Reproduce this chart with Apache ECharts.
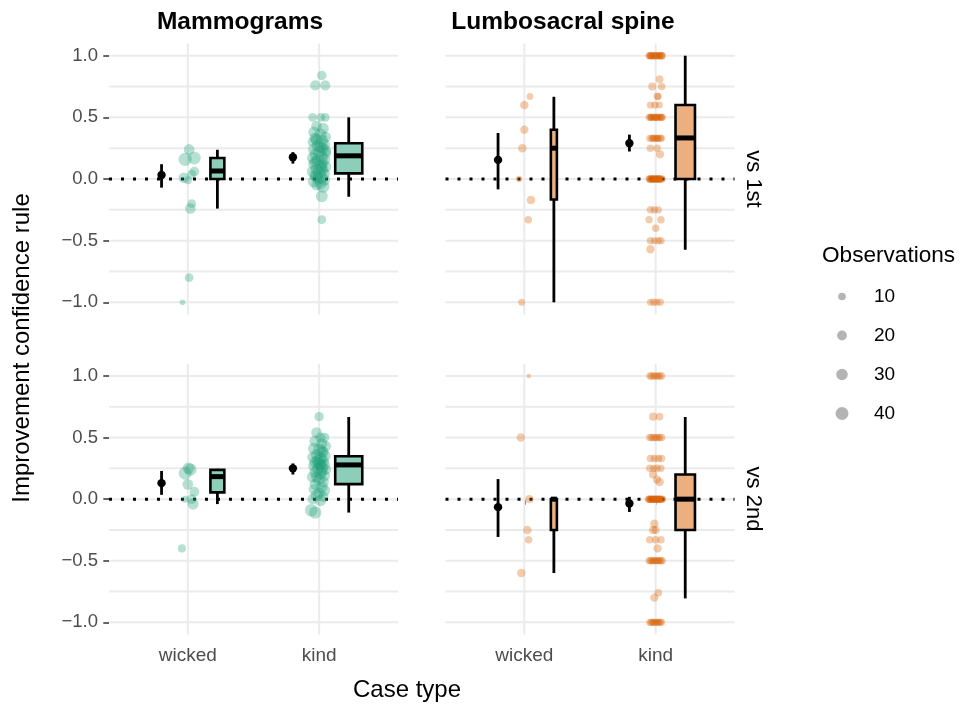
<!DOCTYPE html>
<html><head><meta charset="utf-8">
<script src="https://cdn.jsdelivr.net/npm/echarts@6/dist/echarts.min.js"></script>
<style>html,body{margin:0;padding:0;background:#fff}#c{width:962px;height:706px}</style>
</head><body><div id="c"></div>
<script>
// ---------- labels ----------
const CASE_TYPES = ['wicked', 'kind'];
const SPECIALTIES = ['Mammograms', 'Lumbosacral spine'];
const COMPARISONS = ['vs 1st', 'vs 2nd'];
const Y_TICKS = [-1, -0.5, 0, 0.5, 1];
const Y_GRID = [-1, -0.75, -0.5, -0.25, 0, 0.25, 0.5, 0.75, 1];
const X_CATS = [1, 2];
const LEGEND_OBS = [10, 20, 30, 40];

// ---------- jittered observations: [jitter offset, improvement, observations] ----------
const mammo1Wicked = [[0.01,0.24,25],[-0.02,0.16,42],[0.05,0.17,38],[0.05,0.06,20],[0.03,0.04,15],[-0.03,0.01,25],[0.0,-0.01,12],[0.03,-0.20,15],[0.02,-0.24,25],[0.01,-0.80,15],[-0.04,-1.00,4]];
const mammo1Kind = [[0.02,0.84,18],[-0.03,0.76,22],[0.046,0.76,22],[-0.05,0.5,15],[0.013,0.5,15],[0.046,0.5,15],
 [-0.02,0.43,25],[0.03,0.41,30],[-0.04,0.38,28],[0.01,0.36,35],[0.05,0.34,25],[-0.03,0.33,30],[0.02,0.31,38],[-0.05,0.30,22],[0.04,0.28,30],[-0.01,0.27,35],[0.03,0.25,28],[-0.04,0.24,32],[0.00,0.22,40],[0.05,0.21,25],[-0.03,0.20,30],[0.02,0.18,35],[-0.05,0.17,28],[0.04,0.16,32],[-0.01,0.15,38],[0.03,0.13,25],[-0.04,0.12,30],[0.01,0.11,35],[0.05,0.10,28],[-0.02,0.08,32],[0.03,0.07,25],[-0.05,0.06,30],[0.00,0.05,38],[0.04,0.04,28],[-0.03,0.03,32],[0.02,0.01,35],[-0.01,0.00,30],[0.04,-0.01,28],[-0.04,-0.02,35],[0.01,-0.04,30],[0.03,-0.06,38],[-0.02,-0.05,25],
 [-0.02,0.32,30],[0.01,0.26,32],[-0.03,0.14,30],[0.02,0.09,28],[-0.02,0.02,35],[0.05,0.23,26],
 [0.02,-0.14,32],[0.02,-0.33,15]];
const lumbo1Wicked = [[0.043,0.67,7],[0.0,0.6,14],[0.0,0.4,13],[-0.015,0.25,14],[-0.04,0.0,6],[0.05,-0.17,14],[0.03,-0.33,10],[-0.02,-1.0,8]];
const lumbo1Kind = [
 [-0.05,1,9],[-0.04,1,8],[-0.03,1,10],[-0.02,1,9],[-0.01,1,8],[0,1,10],[0.01,1,9],[0.02,1,8],[0.03,1,9],[0.04,1,10],[0.05,1,9],[-0.035,1,8],[-0.005,1,9],[0.025,1,8],[0.045,1,9],[-0.045,1,8],
 [0.03,0.81,11],[-0.026,0.75,12],[0.045,0.75,10],[0.012,0.67,10],[0.02,0.67,8],[-0.04,0.6,9],[-0.005,0.6,9],[0.028,0.6,8],
 [-0.05,0.5,9],[-0.04,0.5,8],[-0.03,0.5,9],[-0.02,0.5,8],[-0.01,0.5,9],[0,0.5,8],[0.01,0.5,9],[0.02,0.5,8],[0.03,0.5,9],[0.04,0.5,8],[0.05,0.5,9],[-0.035,0.5,8],[0.005,0.5,9],[0.045,0.5,8],
 [-0.045,0.33,9],[-0.03,0.33,8],[-0.01,0.33,10],[0.005,0.33,8],[0.02,0.33,9],[0.035,0.33,10],[0.045,0.33,8],[-0.02,0.33,9],[0.01,0.33,8],
 [-0.04,0.25,10],[0.012,0.25,9],[0.033,0.2,12],
 [-0.05,0,9],[-0.045,0,8],[-0.04,0,9],[-0.035,0,8],[-0.03,0,9],[-0.025,0,8],[-0.02,0,9],[-0.015,0,8],[-0.01,0,9],[-0.005,0,8],[0,0,9],[0.005,0,8],[0.01,0,9],[0.015,0,8],[0.02,0,9],[0.025,0,8],[0.03,0,9],[0.035,0,8],[0.04,0,9],[0.05,0,8],
 [-0.04,-0.25,10],[-0.01,-0.25,9],[0.02,-0.25,9],[-0.05,-0.33,9],[0.04,-0.33,10],[0.0,-0.4,10],
 [-0.04,-0.5,9],[-0.01,-0.5,8],[0.02,-0.5,9],[0.04,-0.5,9],[-0.04,-0.57,13],
 [-0.04,-1,8],[-0.015,-1,9],[0.01,-1,8],[0.035,-1,9]];
const mammo2Wicked = [[0.005,0.25,30],[-0.02,0.21,40],[0.02,0.24,35],[0.0,0.12,25],[0.05,0.06,20],[-0.02,0.0,8],[0.03,0.0,20],[0.04,-0.04,28],[-0.045,-0.4,12]];
const mammo2Kind = [[0.0,0.67,18],[-0.02,0.54,25],[0.01,0.5,22],[0.04,0.5,20],
 [-0.03,0.47,30],[0.02,0.45,28],[0.05,0.43,25],[-0.04,0.41,32],[0.0,0.40,35],[0.03,0.38,28],[-0.02,0.36,30],[0.04,0.35,35],[-0.05,0.34,25],[0.01,0.33,38],[0.03,0.31,30],[-0.03,0.30,32],[0.0,0.29,35],[0.04,0.28,28],[-0.04,0.27,30],[0.02,0.26,38],[-0.01,0.25,32],[0.05,0.24,25],[-0.03,0.22,30],[0.01,0.21,35],[0.04,0.19,28],[-0.05,0.18,30],[0.0,0.16,35],[0.03,0.14,30],[-0.03,0.12,28],[0.02,0.10,32],[-0.04,0.08,25],[0.04,0.07,30],[0.0,0.05,28],[-0.02,0.03,32],[0.03,0.02,25],[-0.05,0.0,22],[0.01,-0.01,30],
 [0.02,0.39,30],[-0.01,0.31,33],[0.02,0.23,30],[-0.02,0.18,28],[0.01,0.28,30],
 [-0.06,-0.09,38],[-0.03,-0.11,35]];
const lumbo2Wicked = [[0.033,1.0,2],[-0.027,0.5,14],[0.038,0.0,12],[0.023,-0.25,14],[0.033,-0.33,10],[-0.023,-0.6,14]];
const lumbo2Kind = [
 [-0.045,1,9],[-0.03,1,10],[-0.015,1,9],[0.0,1,10],[0.015,1,9],[0.03,1,10],[0.045,1,9],
 [-0.02,0.67,12],[0.03,0.67,10],
 [-0.045,0.5,10],[-0.03,0.5,9],[-0.015,0.5,10],[0.0,0.5,9],[0.015,0.5,10],[0.03,0.5,9],[0.045,0.5,10],
 [-0.04,0.33,10],[-0.01,0.33,9],[0.02,0.33,10],[0.045,0.33,9],
 [-0.045,0.25,10],[-0.015,0.25,9],[0.01,0.25,10],[0.04,0.25,9],
 [-0.02,0.2,12],[0.01,0.16,12],[0.03,0.14,14],
 [-0.055,0,9],[-0.05,0,8],[-0.045,0,9],[-0.04,0,8],[-0.035,0,9],[-0.03,0,8],[-0.025,0,9],[-0.02,0,8],[-0.015,0,9],[-0.01,0,8],[-0.005,0,9],[0,0,8],[0.005,0,9],[0.01,0,8],[0.015,0,9],[0.02,0,8],[0.025,0,9],[0.03,0,8],[0.035,0,9],[0.04,0,8],[0.045,0,9],[0.055,0,8],
 [-0.01,-0.2,13],[-0.02,-0.25,13],[0.0,-0.25,12],[-0.045,-0.33,10],[0.0,-0.33,10],[0.04,-0.33,10],[0.015,-0.4,13],
 [-0.05,-0.5,9],[-0.04,-0.5,8],[-0.03,-0.5,9],[-0.02,-0.5,8],[-0.01,-0.5,9],[0,-0.5,8],[0.01,-0.5,9],[0.02,-0.5,8],[0.03,-0.5,9],[0.04,-0.5,8],[0.05,-0.5,9],
 [0.02,-0.76,10],[-0.01,-0.8,13],
 [-0.045,-1,9],[-0.035,-1,8],[-0.025,-1,9],[-0.015,-1,8],[-0.005,-1,9],[0.005,-1,8],[0.015,-1,9],[0.025,-1,8],[0.035,-1,9],[0.045,-1,8]];

// ---------- mean with 95% CI: [mean, lower, upper] for wicked, kind ----------
const meanMammo1 = [[0.033,-0.07,0.12],[0.177,0.125,0.218]];
const meanLumbo1 = [[0.155,-0.084,0.373],[0.29,0.223,0.36]];
const meanMammo2 = [[0.13,0.035,0.229],[0.25,0.2,0.29]];
const meanLumbo2 = [[-0.065,-0.307,0.163],[-0.035,-0.104,0.019]];

// ---------- boxplot: [lower whisker, Q1, median, Q3, upper whisker] for wicked, kind ----------
const boxMammo1 = [[-0.24,0.0,0.065,0.17,0.237],[-0.144,0.046,0.188,0.29,0.5]];
const boxLumbo1 = [[-1.0,-0.166,0.25,0.4,0.667],[-0.574,0.0,0.333,0.6,1.0]];
const boxMammo2 = [[-0.04,0.055,0.183,0.238,0.246],[-0.109,0.122,0.278,0.348,0.667]];
const boxLumbo2 = [[-0.6,-0.25,0.0,0.0,0.0],[-0.806,-0.25,0.0,0.2,0.667]];

// ---------- styling / layout ----------
const GREEN_PT = 'rgba(27,158,119,0.4)', ORANGE_PT = 'rgba(217,95,2,0.4)';
const GREEN_BOX = '#8DCEBB', ORANGE_BOX = '#ECAF80';
const FONT = '"Liberation Sans", Arial, Helvetica, sans-serif';
const X_MIN = 0.4, X_MAX = 2.6, Y_MIN = -1.1, Y_MAX = 1.1;
const MEAN_OFFSET = -0.2, BOX_OFFSET = 0.225;
const sizeOf = n => 2.2 + 1.7 * Math.sqrt(n);

const panels = [
  {pts:[mammo1Wicked, mammo1Kind], mean:meanMammo1, box:boxMammo1, pt:GREEN_PT, fill:GREEN_BOX, half:[0.053,0.103]},
  {pts:[lumbo1Wicked, lumbo1Kind], mean:meanLumbo1, box:boxLumbo1, pt:ORANGE_PT, fill:ORANGE_BOX, half:[0.023,0.074]},
  {pts:[mammo2Wicked, mammo2Kind], mean:meanMammo2, box:boxMammo2, pt:GREEN_PT, fill:GREEN_BOX, half:[0.053,0.103]},
  {pts:[lumbo2Wicked, lumbo2Kind], mean:meanLumbo2, box:boxLumbo2, pt:ORANGE_PT, fill:ORANGE_BOX, half:[0.023,0.074]}
];

const grids = [
  {left:109, top:43.4, width:289, height:271.2},
  {left:445.5, top:43.4, width:289, height:271.2},
  {left:109, top:363.7, width:289, height:270.9},
  {left:445.5, top:363.7, width:289, height:270.9},
  {left:832, top:277, width:20, height:156}
];

const xAxes = [], yAxes = [], series = [];
panels.forEach((p, i) => {
  const bottom = i >= 2, left = i % 2 === 0;
  xAxes.push({
    type:'value', gridIndex:i, min:X_MIN, max:X_MAX,
    axisLine:{show:false}, splitLine:{show:false},
    axisTick:{show:bottom, customValues:X_CATS, length:5.7, lineStyle:{color:'#333', width:1.5}},
    axisLabel:{show:bottom, customValues:X_CATS, margin:12, fontSize:19, color:'#4D4D4D', fontFamily:FONT,
      formatter:v => CASE_TYPES[Math.round(v) - 1] || ''}
  });
  yAxes.push({
    type:'value', gridIndex:i, min:Y_MIN, max:Y_MAX,
    axisLine:{show:false}, splitLine:{show:false},
    axisTick:{show:left, customValues:Y_TICKS, length:5.7, lineStyle:{color:'#333', width:1.5}},
    axisLabel:{show:left, customValues:Y_TICKS, margin:11, fontSize:18.5, color:'#4D4D4D', fontFamily:FONT,
      formatter:v => (v < 0 ? '\u2212' : '') + Math.abs(v).toFixed(1)}
  });
  const ax = {xAxisIndex:i, yAxisIndex:i, silent:true, animation:false};
  series.push(Object.assign({type:'custom', z:1, dimensions:['x','y'], encode:{x:0, y:1},
    data:Y_GRID.map(v => [1, v]),
    renderItem:(params, api) => {
      const a = api.coord([X_MIN, api.value(1)]), b = api.coord([X_MAX, api.value(1)]);
      return {type:'line', shape:{x1:a[0], y1:a[1], x2:b[0], y2:b[1]}, style:{stroke:'#EBEBEB', lineWidth:2}};
    }}, ax));
  series.push(Object.assign({type:'custom', z:1, dimensions:['x','y'], encode:{x:0, y:1},
    data:X_CATS.map(c => [c, 0]),
    renderItem:(params, api) => {
      const a = api.coord([api.value(0), Y_MIN]), b = api.coord([api.value(0), Y_MAX]);
      return {type:'line', shape:{x1:a[0], y1:a[1], x2:b[0], y2:b[1]}, style:{stroke:'#EBEBEB', lineWidth:2}};
    }}, ax));
  series.push(Object.assign({type:'custom', z:2, dimensions:['x','y'], encode:{x:0, y:1},
    data:[[1, 0]],
    renderItem:(params, api) => {
      const a = api.coord([X_MIN, api.value(1)]), b = api.coord([X_MAX, api.value(1)]);
      return {type:'line', shape:{x1:a[0], y1:a[1], x2:b[0], y2:b[1]},
        style:{stroke:'#000', lineWidth:3, lineDash:[3, 9], lineCap:'butt'}};
    }}, ax));
  const pts = [];
  p.pts.forEach((grp, ci) => grp.forEach(d => pts.push([X_CATS[ci] + d[0], d[1], d[2]])));
  series.push(Object.assign({type:'scatter', z:3, data:pts, symbol:'circle',
    symbolSize:d => sizeOf(d[2]), itemStyle:{color:p.pt}, emphasis:{disabled:true}}, ax));
  series.push(Object.assign({type:'custom', z:4, dimensions:['x','m','lo','hi'], encode:{x:0, y:[1,2,3]},
    data:p.mean.map((m, ci) => [X_CATS[ci] + MEAN_OFFSET, m[0], m[1], m[2]]),
    renderItem:(params, api) => {
      const x = api.value(0);
      const c = api.coord([x, api.value(1)]), lo = api.coord([x, api.value(2)]), hi = api.coord([x, api.value(3)]);
      return {type:'group', children:[
        {type:'line', shape:{x1:lo[0], y1:lo[1], x2:hi[0], y2:hi[1]}, style:{stroke:'#000', lineWidth:2.8}},
        {type:'circle', shape:{cx:c[0], cy:c[1], r:4.2}, style:{fill:'#000'}}
      ]};
    }}, ax));
  const half = p.half, fill = p.fill;
  series.push(Object.assign({type:'custom', z:5, dimensions:['x','lw','q1','med','q3','uw','ci'], encode:{x:0, y:[1,2,3,4,5]},
    data:p.box.map((b, ci) => [X_CATS[ci] + BOX_OFFSET, b[0], b[1], b[2], b[3], b[4], ci]),
    renderItem:(params, api) => {
      const x = api.value(0), hw = half[api.value(6)];
      const P = v => api.coord([x, v]);
      const lw = P(api.value(1)), q1 = P(api.value(2)), md = P(api.value(3)), q3 = P(api.value(4)), uw = P(api.value(5));
      const l = api.coord([x - hw, 0])[0], r = api.coord([x + hw, 0])[0];
      return {type:'group', children:[
        {type:'line', shape:{x1:lw[0], y1:lw[1], x2:q1[0], y2:q1[1]}, style:{stroke:'#000', lineWidth:2.8}},
        {type:'line', shape:{x1:q3[0], y1:q3[1], x2:uw[0], y2:uw[1]}, style:{stroke:'#000', lineWidth:2.8}},
        {type:'rect', shape:{x:l, y:q3[1], width:r - l, height:Math.max(q1[1] - q3[1], 0.5)},
          style:{fill:fill, stroke:'#000', lineWidth:2.6}},
        {type:'line', shape:{x1:l, y1:md[1], x2:r, y2:md[1]}, style:{stroke:'#000', lineWidth:5}}
      ]};
    }}, ax));
});

xAxes.push({type:'value', gridIndex:4, min:-1, max:1, show:false});
yAxes.push({type:'category', gridIndex:4, data:LEGEND_OBS.map(String), inverse:true, position:'right',
  axisLine:{show:false}, axisTick:{show:false}, splitLine:{show:false},
  axisLabel:{margin:22, fontSize:19, color:'#000', fontFamily:FONT}});
series.push({type:'scatter', xAxisIndex:4, yAxisIndex:4, silent:true, animation:false, z:3,
  data:LEGEND_OBS.map((v, i) => [0, i, v]), symbolSize:d => sizeOf(d[2]),
  itemStyle:{color:'rgba(0,0,0,0.37)'}});

const txt = (text, x, y, size, opts) => {
  opts = opts || {};
  const al = opts.align || 'center';
  const el = {type:'text', x:x, y:y, silent:true,
    style:{text:text, fill:'#000', font:(opts.bold ? 'bold ' : '') + size + 'px ' + FONT,
      align:al, verticalAlign:'middle', textAlign:al, textVerticalAlign:'middle'}};
  if (opts.rot) el.rotation = opts.rot;
  return el;
};

const graphics = [
  txt(SPECIALTIES[0], 240, 22, 24.5, {bold:true}),
  txt(SPECIALTIES[1], 563, 22, 24.5, {bold:true}),
  txt(COMPARISONS[0], 753, 179, 22, {rot:-Math.PI/2}),
  txt(COMPARISONS[1], 753, 499, 22, {rot:-Math.PI/2}),
  txt('Improvement confidence rule', 22, 348, 24, {rot:Math.PI/2}),
  txt('Case type', 407, 690, 24),
  txt('Observations', 822, 256, 22.6, {align:'left'})
];

const chart = echarts.init(document.getElementById('c'), null, {renderer:'canvas'});
chart.setOption({
  animation:false, backgroundColor:'#fff',
  grid:grids, xAxis:xAxes, yAxis:yAxes, series:series, graphic:graphics
});
</script></body></html>
